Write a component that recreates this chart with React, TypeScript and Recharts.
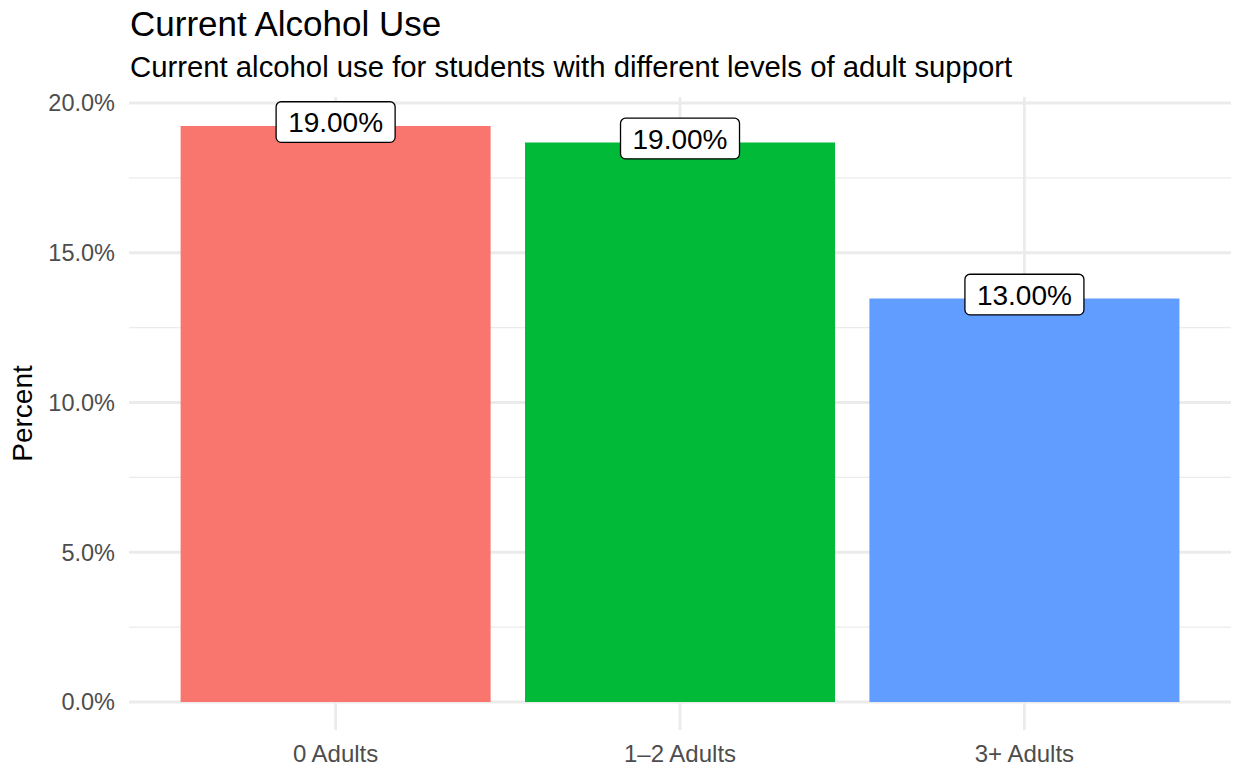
import { BarChart, Bar, XAxis, YAxis, CartesianGrid, Cell, LabelList } from "recharts"

const categories = ["0 Adults", "1–2 Adults", "3+ Adults"]
const percents = [19.23, 18.68, 13.47]
const labels = ["19.00%", "19.00%", "13.00%"]
const colors = ["#F8766D", "#00BA38", "#619CFF"]
const majorTicks = [0, 5, 10, 15, 20]
const minorTicks = [2.5, 7.5, 12.5, 17.5]

const FONT = '"Liberation Sans", Arial, Helvetica, sans-serif'

const data = categories.map((group, i) => ({
  group,
  percent: percents[i],
  label: labels[i],
}))

// geom_label style box: white fill, black rounded border
const renderLabel = (props: any) => {
  const { x, y, width, value } = props
  const cx = Number(x) + Number(width) / 2
  const cy = Number(y) - 4
  const w = 119
  const h = 40.6
  return (
    <g>
      <rect x={cx - w / 2} y={cy - h / 2} width={w} height={h} rx={5} ry={5} fill="#ffffff" stroke="#000000" strokeWidth={1.3} />
      <text x={cx} y={cy + 10} textAnchor="middle" fontSize={28} fontFamily={FONT} fill="#000000">
        {value}
      </text>
    </g>
  )
}

const renderYLabel = (props: any) => {
  const vb = props.viewBox || {}
  const x = (vb.x ?? 0) + 32
  const y = (vb.y ?? 0) + (vb.height ?? 0) / 2
  return (
    <text x={x} y={y} transform={`rotate(-90, ${x}, ${y})`} textAnchor="middle" fontSize={28} fontFamily={FONT} fill="#000000">
      Percent
    </text>
  )
}

export default function App() {
  return (
    <div style={{ position: "relative", width: 1235, height: 771, background: "#ffffff", fontFamily: FONT }}>
      <style>{"body{margin:0}"}</style>
      <svg width={1235} height={90} style={{ position: "absolute", left: 0, top: 0 }}>
        <text x={130} y={36} fontSize={35} fontFamily={FONT} fill="#000000">
          Current Alcohol Use
        </text>
        <text x={130} y={77} fontSize={29.3} fontFamily={FONT} fill="#000000">
          Current alcohol use for students with different levels of adult support
        </text>
      </svg>
      <BarChart
        width={1235}
        height={771}
        data={data}
        margin={{ top: 97, right: 4, bottom: 0, left: 0 }}
        barCategoryGap="5%"
      >
        <CartesianGrid horizontalValues={minorTicks} vertical={false} stroke="#EBEBEB" strokeWidth={1.4} />
        <CartesianGrid horizontalValues={majorTicks} verticalValues={categories} stroke="#EBEBEB" strokeWidth={2.8} />
        <XAxis
          dataKey="group"
          height={41}
          padding={{ left: 34.4, right: 34.4 }}
          axisLine={false}
          tickLine={false}
          tickMargin={9}
          tick={{ fontSize: 24, fill: "#4D4D4D", fontFamily: FONT }}
        />
        <YAxis
          type="number"
          width={129}
          domain={[-0.935, 20.2]}
          ticks={majorTicks}
          allowDataOverflow
          axisLine={false}
          tickLine={false}
          tickMargin={8}
          tickFormatter={(v: number) => `${v.toFixed(1)}%`}
          tick={{ fontSize: 23.5, fill: "#4D4D4D", fontFamily: FONT }}
          label={{ content: renderYLabel }}
        />
        <Bar dataKey="percent" isAnimationActive={false}>
          {data.map((d, i) => (
            <Cell key={d.group} fill={colors[i]} />
          ))}
          <LabelList dataKey="label" content={renderLabel} />
        </Bar>
      </BarChart>
    </div>
  )
}
